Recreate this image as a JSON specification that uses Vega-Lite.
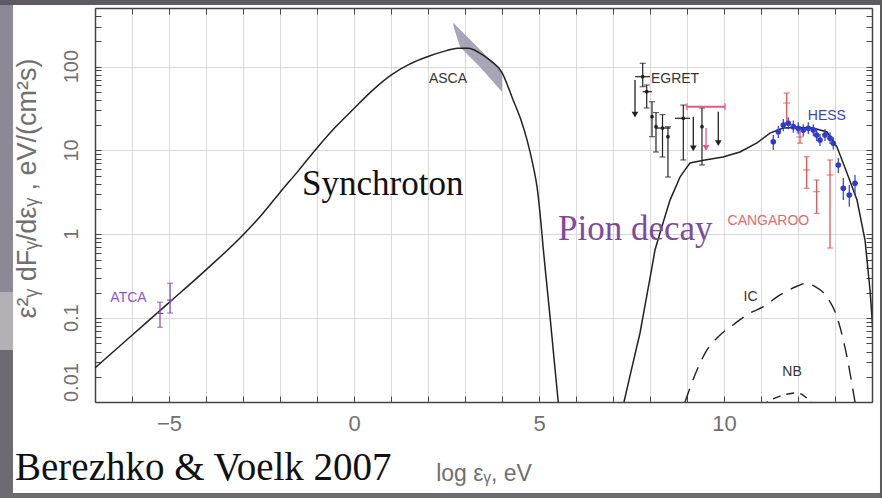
{
  "$schema": "https://vega.github.io/schema/vega-lite/v6.json",
  "width": 777,
  "height": 394,
  "autosize": {"type": "none"},
  "padding": {"left": 95, "top": 8, "right": 10, "bottom": 96},
  "background": "#ffffff",
  "config": {"view": {"stroke": null}},
  "datasets": {
    "one": [{}],
    "ylab": [{"v": 0.1, "t": "0.1"}, {"v": 1, "t": "1"}, {"v": 10, "t": "10"}, {"v": 100, "t": "100"}],
    "ylab0": [{"v": 0.01, "t": "0.01"}],
    "sync": [
      {"x": -7, "y": 0.0255}, {"x": -6, "y": 0.0625}, {"x": -5, "y": 0.153}, {"x": -4, "y": 0.377},
      {"x": -3, "y": 0.98}, {"x": -2.5, "y": 1.7}, {"x": -2, "y": 3.16}, {"x": -1.5, "y": 5.75},
      {"x": -1, "y": 10.7}, {"x": -0.5, "y": 19}, {"x": 0, "y": 31.6}, {"x": 0.5, "y": 52},
      {"x": 1, "y": 79}, {"x": 1.5, "y": 107}, {"x": 2, "y": 132}, {"x": 2.5, "y": 155},
      {"x": 2.8, "y": 166}, {"x": 3.1, "y": 166}, {"x": 3.4, "y": 145}, {"x": 3.7, "y": 117},
      {"x": 4.0, "y": 85}, {"x": 4.3, "y": 40}, {"x": 4.5, "y": 24}, {"x": 4.68, "y": 13.2},
      {"x": 4.85, "y": 6.3}, {"x": 4.95, "y": 3.6}, {"x": 5.05, "y": 1.41}, {"x": 5.11, "y": 0.71},
      {"x": 5.2, "y": 0.28}, {"x": 5.3, "y": 0.102}, {"x": 5.41, "y": 0.0316}, {"x": 5.52, "y": 0.01}
    ],
    "pion": [
      {"x": 7.297, "y": 0.01}, {"x": 7.5, "y": 0.0245}, {"x": 7.73, "y": 0.0665}, {"x": 7.9, "y": 0.172},
      {"x": 8.054, "y": 0.407}, {"x": 8.135, "y": 0.65}, {"x": 8.3, "y": 1.15}, {"x": 8.541, "y": 2.56},
      {"x": 8.7, "y": 3.7}, {"x": 8.811, "y": 4.82}, {"x": 8.95, "y": 5.9}, {"x": 9.081, "y": 7.08},
      {"x": 9.486, "y": 7.69}, {"x": 9.973, "y": 8.35}, {"x": 10.432, "y": 9.58}, {"x": 10.892, "y": 12.3},
      {"x": 11.243, "y": 16.1}, {"x": 11.595, "y": 18.5}, {"x": 12.054, "y": 18.8}, {"x": 12.405, "y": 18.5},
      {"x": 12.784, "y": 16.6}, {"x": 13.054, "y": 11.0}, {"x": 13.324, "y": 5.38}, {"x": 13.595, "y": 2.56},
      {"x": 13.811, "y": 0.855}, {"x": 13.946, "y": 0.217}, {"x": 14.05, "y": 0.05}, {"x": 14.15, "y": 0.01}
    ],
    "ic": [
      {"x": 8.946, "y": 0.01}, {"x": 9.27, "y": 0.0241}, {"x": 9.541, "y": 0.0418}, {"x": 9.838, "y": 0.0597},
      {"x": 10.243, "y": 0.083}, {"x": 10.703, "y": 0.115}, {"x": 11.054, "y": 0.136}, {"x": 11.514, "y": 0.189},
      {"x": 11.973, "y": 0.24}, {"x": 12.2, "y": 0.26}, {"x": 12.45, "y": 0.24}, {"x": 12.784, "y": 0.179},
      {"x": 13.054, "y": 0.103}, {"x": 13.324, "y": 0.0344}, {"x": 13.486, "y": 0.0139}, {"x": 13.541, "y": 0.01}
    ],
    "nb": [
      {"x": 11.0, "y": 0.009}, {"x": 11.3, "y": 0.0108}, {"x": 11.6, "y": 0.0122}, {"x": 11.9, "y": 0.0128},
      {"x": 12.1, "y": 0.0124}, {"x": 12.3, "y": 0.0106}, {"x": 12.45, "y": 0.009}
    ],
    "asca": [
      {"x": 2.686, "lo": 305, "hi": 334}, {"x": 2.865, "lo": 171, "hi": 277},
      {"x": 3.405, "lo": 98.9, "hi": 160}, {"x": 4.0, "lo": 50.2, "hi": 87.4}
    ],
    "atca": [
      {"x": -5.243, "y": 0.114, "lo": 0.078, "hi": 0.155, "xlo": -5.33, "xhi": -5.15},
      {"x": -4.97, "y": 0.164, "lo": 0.115, "hi": 0.261, "xlo": -5.05, "xhi": -4.89}
    ],
    "egret": [
      {"x": 7.803, "y": 75.8, "lo": 57.6, "hi": 109.5, "xlo": 7.6, "xhi": 8.0},
      {"x": 7.911, "y": 50.2, "lo": 32.1, "hi": 60.3, "xlo": 7.8, "xhi": 8.05},
      {"x": 8.054, "y": 25.3, "lo": 14.6, "hi": 38.1},
      {"x": 8.162, "y": 19.2, "lo": 9.58, "hi": 28.3},
      {"x": 8.338, "y": 18.5, "lo": 8.35, "hi": 26.8, "xlo": 8.15, "xhi": 8.55},
      {"x": 8.486, "y": 14.6, "lo": 4.82, "hi": 19.2},
      {"x": 8.9, "y": 24.2, "lo": 7.7, "hi": 34.8, "xlo": 8.676, "xhi": 9.081},
      {"x": 9.405, "y": 19.2, "lo": 6.71, "hi": 32.1}
    ],
    "ul": [
      {"x": 7.595, "top": 69.2, "tip": 26.8, "inst": "EGRET"},
      {"x": 9.17, "top": 25.3, "tip": 10.6, "inst": "EGRET"},
      {"x": 9.846, "top": 29.0, "tip": 12.2, "inst": "EGRET"},
      {"x": 9.514, "top": 18.5, "tip": 10.7, "inst": "EGRET-b"}
    ],
    "egretb": [
      {"y": 33.2, "xlo": 8.992, "xhi": 10.027}
    ],
    "hess": [
      {"x": 11.332, "y": 12.7, "lo": 10.1, "hi": 15.3}, {"x": 11.467, "y": 16.7, "lo": 14.1, "hi": 19.7},
      {"x": 11.603, "y": 20.1, "lo": 17.0, "hi": 23.7}, {"x": 11.738, "y": 21.1, "lo": 17.9, "hi": 24.9},
      {"x": 11.873, "y": 19.2, "lo": 16.3, "hi": 22.7}, {"x": 12.008, "y": 18.4, "lo": 15.6, "hi": 21.7},
      {"x": 12.143, "y": 17.5, "lo": 14.8, "hi": 20.6}, {"x": 12.278, "y": 18.4, "lo": 15.6, "hi": 21.7},
      {"x": 12.414, "y": 17.5, "lo": 14.8, "hi": 20.6}, {"x": 12.505, "y": 15.3, "lo": 13.0, "hi": 18.0},
      {"x": 12.595, "y": 13.3, "lo": 11.3, "hi": 15.7}, {"x": 12.73, "y": 15.3, "lo": 13.0, "hi": 18.0},
      {"x": 12.865, "y": 14.0, "lo": 11.9, "hi": 16.5}, {"x": 12.954, "y": 12.2, "lo": 10.3, "hi": 14.4},
      {"x": 13.089, "y": 6.71, "lo": 5.36, "hi": 8.13}, {"x": 13.224, "y": 3.54, "lo": 2.56, "hi": 4.69},
      {"x": 13.386, "y": 2.94, "lo": 2.13, "hi": 3.87}, {"x": 13.541, "y": 4.06, "lo": 2.94, "hi": 5.1}
    ],
    "cang": [
      {"x": 11.695, "y": 36.8, "lo": 21.3, "hi": 48.4},
      {"x": 12.054, "y": 14.5, "lo": 12.2, "hi": 16.7},
      {"x": 12.235, "y": 5.85, "lo": 3.54, "hi": 8.42},
      {"x": 12.505, "y": 3.22, "lo": 1.78, "hi": 4.44},
      {"x": 12.865, "y": 5.1, "lo": 0.686, "hi": 7.7}
    ],
    "labels": [
      {"text": "ASCA", "x": 2.54, "y": 71.2, "inst": "ASCA"},
      {"text": "EGRET", "x": 8.676, "y": 72.1, "inst": "EGRET"},
      {"text": "HESS", "x": 12.78, "y": 25.8, "inst": "HESS"},
      {"text": "CANGAROO", "x": 11.2, "y": 1.44, "inst": "CANGAROO"},
      {"text": "ATCA", "x": -6.095, "y": 0.176, "inst": "ATCA"},
      {"text": "IC", "x": 10.716, "y": 0.179, "inst": "IC"},
      {"text": "NB", "x": 11.84, "y": 0.0225, "inst": "NB"}
    ],
    "notes": [
      {"text": "Synchroton", "x": -1.405, "y": 2.94, "kind": "model"},
      {"text": "Pion decay", "x": 5.514, "y": 0.855, "kind": "pion"}
    ],
    "credit": [
      {"text": "Berezhko & Voelk 2007", "x": -9.162, "y": 0.001175}
    ]
  },
  "resolve": {
    "axis": {"x": "independent", "y": "independent"},
    "scale": {"color": "independent"}
  },
  "layer": [
    {
      "data": {"name": "one"},
      "mark": {"type": "rect", "color": "#5e5a63", "clip": false},
      "encoding": {
        "x": {"datum": -10, "type": "quantitative", "scale": {"domain": [-7, 14], "nice": false, "zero": false}, "axis": null},
        "x2": {"datum": 15},
        "y": {"datum": 543, "type": "quantitative", "scale": {"type": "log", "domain": [0.01, 500], "nice": false}, "axis": null},
        "y2": {"datum": 5000}
      }
    },
    {
      "data": {"name": "one"},
      "mark": {"type": "rect", "color": "#6e6a72", "clip": false},
      "encoding": {
        "x": {"datum": -10, "type": "quantitative", "scale": {"domain": [-7, 14], "nice": false, "zero": false}, "axis": null},
        "x2": {"datum": 15},
        "y": {"datum": 0.00001, "type": "quantitative", "scale": {"type": "log", "domain": [0.01, 500], "nice": false}, "axis": null},
        "y2": {"datum": 0.000822}
      }
    },
    {
      "data": {"name": "one"},
      "mark": {"type": "rect", "color": "#8d8893", "clip": false},
      "encoding": {
        "x": {"datum": -10, "type": "quantitative", "scale": {"domain": [-7, 14], "nice": false, "zero": false}, "axis": null},
        "x2": {"datum": -9.216},
        "y": {"datum": 0.205, "type": "quantitative", "scale": {"type": "log", "domain": [0.01, 500], "nice": false}, "axis": null},
        "y2": {"datum": 543}
      }
    },
    {
      "data": {"name": "one"},
      "mark": {"type": "rect", "color": "#b3b1b6", "clip": false},
      "encoding": {
        "x": {"datum": -10, "type": "quantitative", "scale": {"domain": [-7, 14], "nice": false, "zero": false}, "axis": null},
        "x2": {"datum": -9.216},
        "y": {"datum": 0.0417, "type": "quantitative", "scale": {"type": "log", "domain": [0.01, 500], "nice": false}, "axis": null},
        "y2": {"datum": 0.205}
      }
    },
    {
      "data": {"name": "one"},
      "mark": {"type": "rect", "color": "#6e6a72", "clip": false},
      "encoding": {
        "x": {"datum": -10, "type": "quantitative", "scale": {"domain": [-7, 14], "nice": false, "zero": false}, "axis": null},
        "x2": {"datum": -9.216},
        "y": {"datum": 0.000822, "type": "quantitative", "scale": {"type": "log", "domain": [0.01, 500], "nice": false}, "axis": null},
        "y2": {"datum": 0.0417}
      }
    },
    {
      "data": {"name": "one"},
      "mark": {"type": "rect", "color": "#5e5a63", "clip": false},
      "encoding": {
        "x": {"datum": 14.216, "type": "quantitative", "scale": {"domain": [-7, 14], "nice": false, "zero": false}, "axis": null},
        "x2": {"datum": 15},
        "y": {"datum": 0.00001, "type": "quantitative", "scale": {"type": "log", "domain": [0.01, 500], "nice": false}, "axis": null},
        "y2": {"datum": 5000}
      }
    },
    {
      "data": {"name": "asca"},
      "mark": {"type": "area", "color": "#9d9bae", "opacity": 0.9, "interpolate": "linear"},
      "encoding": {
        "x": {"field": "x", "type": "quantitative", "scale": {"domain": [-7, 14], "nice": false, "zero": false}, "axis": null},
        "y": {"field": "hi", "type": "quantitative", "scale": {"type": "log", "domain": [0.01, 500], "nice": false}, "axis": null},
        "y2": {"field": "lo"}
      }
    },
    {
      "data": {"name": "sync"},
      "mark": {"type": "line", "color": "#222222", "strokeWidth": 1.5, "clip": true, "interpolate": "monotone"},
      "encoding": {
        "x": {
          "field": "x", "type": "quantitative",
          "scale": {"domain": [-7, 14], "nice": false, "zero": false},
          "axis": {
            "orient": "bottom",
            "values": [-7, -6, -5, -4, -3, -2, -1, 0, 1, 2, 3, 4, 5, 6, 7, 8, 9, 10, 11, 12, 13, 14],
            "labelExpr": "datum.value % 5 === 0 ? datum.label : ''",
            "labelOverlap": false, "labelFlush": false,
            "grid": true, "gridColor": "#d9d9d9", "gridWidth": 1,
            "ticks": true, "tickSize": -6, "tickColor": "#444444", "tickWidth": 1,
            "domain": true, "domainColor": "#444444", "domainWidth": 1.5,
            "labelFont": "Liberation Sans", "labelFontSize": 22, "labelColor": "#707070",
            "labelPadding": 17, "labelBaseline": "top",
            "title": "log  εᵧ,  eV",
            "titleFont": "Liberation Sans", "titleFontSize": 23, "titleFontWeight": "normal", "titleColor": "#707070",
            "titleY": 78, "titleBaseline": "alphabetic"
          }
        },
        "y": {
          "field": "y", "type": "quantitative",
          "scale": {"type": "log", "domain": [0.01, 500], "nice": false},
          "axis": {
            "orient": "left",
            "values": [0.01, 0.02, 0.03, 0.04, 0.05, 0.06, 0.07, 0.08, 0.09, 0.1, 0.2, 0.3, 0.4, 0.5, 0.6, 0.7, 0.8, 0.9, 1, 2, 3, 4, 5, 6, 7, 8, 9, 10, 20, 30, 40, 50, 60, 70, 80, 90, 100, 200, 300, 400, 500],
            "labels": false,
            "grid": true, "gridColor": "#d9d9d9", "gridWidth": 1,
            "gridOpacity": {"condition": {"test": "datum.value == 0.01 || datum.value == 0.1 || datum.value == 1 || datum.value == 10 || datum.value == 100", "value": 1}, "value": 0},
            "ticks": true, "tickSize": -6, "tickColor": "#444444", "tickWidth": 1,
            "domain": true, "domainColor": "#444444", "domainWidth": 1.5,
            "title": "ε²ᵧ  dFᵧ/dεᵧ ,    eV/(cm²s)",
            "titleFont": "Liberation Sans", "titleFontSize": 27, "titleFontWeight": "normal", "titleColor": "#707070",
            "titleAngle": 270, "titleX": -68, "titleY": 180, "titleAlign": "center", "titleBaseline": "middle"
          }
        }
      }
    },
    {
      "data": {"name": "pion"},
      "mark": {"type": "line", "color": "#222222", "strokeWidth": 1.5, "clip": true},
      "encoding": {
        "x": {
          "field": "x", "type": "quantitative",
          "scale": {"domain": [-7, 14], "nice": false, "zero": false},
          "axis": {
            "orient": "top",
            "values": [-7, -6, -5, -4, -3, -2, -1, 0, 1, 2, 3, 4, 5, 6, 7, 8, 9, 10, 11, 12, 13, 14],
            "labels": false, "grid": false, "title": null,
            "ticks": true, "tickSize": -6, "tickColor": "#444444",
            "domain": true, "domainColor": "#444444", "domainWidth": 1.5
          }
        },
        "y": {
          "field": "y", "type": "quantitative",
          "scale": {"type": "log", "domain": [0.01, 500], "nice": false},
          "axis": {
            "orient": "right",
            "values": [0.01, 0.02, 0.03, 0.04, 0.05, 0.06, 0.07, 0.08, 0.09, 0.1, 0.2, 0.3, 0.4, 0.5, 0.6, 0.7, 0.8, 0.9, 1, 2, 3, 4, 5, 6, 7, 8, 9, 10, 20, 30, 40, 50, 60, 70, 80, 90, 100, 200, 300, 400, 500],
            "labels": false, "grid": false, "title": null,
            "ticks": true, "tickSize": -6, "tickColor": "#444444",
            "domain": true, "domainColor": "#444444", "domainWidth": 1.5
          }
        }
      }
    },
    {
      "data": {"name": "ylab"},
      "mark": {"type": "text", "angle": 270, "align": "center", "baseline": "alphabetic", "dy": -17, "font": "Liberation Sans", "fontSize": 20, "color": "#707070", "clip": false},
      "encoding": {
        "x": {"datum": -7, "type": "quantitative", "scale": {"domain": [-7, 14], "nice": false, "zero": false}, "axis": null},
        "y": {"field": "v", "type": "quantitative", "scale": {"type": "log", "domain": [0.01, 500], "nice": false}, "axis": null},
        "text": {"field": "t"}
      }
    },
    {
      "data": {"name": "ylab0"},
      "mark": {"type": "text", "angle": 270, "align": "left", "baseline": "alphabetic", "dy": -17, "font": "Liberation Sans", "fontSize": 20, "color": "#707070", "clip": false},
      "encoding": {
        "x": {"datum": -7, "type": "quantitative", "scale": {"domain": [-7, 14], "nice": false, "zero": false}, "axis": null},
        "y": {"field": "v", "type": "quantitative", "scale": {"type": "log", "domain": [0.01, 500], "nice": false}, "axis": null},
        "text": {"field": "t"}
      }
    },
    {
      "data": {"name": "ic"},
      "mark": {"type": "line", "color": "#222222", "strokeWidth": 1.4, "strokeDash": [14, 9], "clip": true, "interpolate": "monotone"},
      "encoding": {
        "x": {"field": "x", "type": "quantitative", "scale": {"domain": [-7, 14], "nice": false, "zero": false}, "axis": null},
        "y": {"field": "y", "type": "quantitative", "scale": {"type": "log", "domain": [0.01, 500], "nice": false}, "axis": null}
      }
    },
    {
      "data": {"name": "nb"},
      "mark": {"type": "line", "color": "#222222", "strokeWidth": 1.4, "strokeDash": [8, 6], "clip": true},
      "encoding": {
        "x": {"field": "x", "type": "quantitative", "scale": {"domain": [-7, 14], "nice": false, "zero": false}, "axis": null},
        "y": {"field": "y", "type": "quantitative", "scale": {"type": "log", "domain": [0.01, 500], "nice": false}, "axis": null}
      }
    },
    {
      "data": {"name": "atca"},
      "mark": {"type": "errorbar", "ticks": true, "size": 6, "thickness": 1.2, "color": "#7f45c8"},
      "encoding": {
        "x": {"field": "x", "type": "quantitative", "scale": {"domain": [-7, 14], "nice": false, "zero": false}, "axis": null},
        "y": {"field": "lo", "type": "quantitative", "scale": {"type": "log", "domain": [0.01, 500], "nice": false}, "axis": null},
        "y2": {"field": "hi"}
      }
    },
    {
      "data": {"name": "atca"},
      "mark": {"type": "rule", "color": "#7f45c8", "strokeWidth": 1.2},
      "encoding": {
        "x": {"field": "xlo", "type": "quantitative", "scale": {"domain": [-7, 14], "nice": false, "zero": false}, "axis": null},
        "x2": {"field": "xhi"},
        "y": {"field": "y", "type": "quantitative", "scale": {"type": "log", "domain": [0.01, 500], "nice": false}, "axis": null}
      }
    },
    {
      "data": {"name": "egret"},
      "mark": {"type": "errorbar", "ticks": true, "size": 6, "thickness": 1.2, "color": "#222222"},
      "encoding": {
        "x": {"field": "x", "type": "quantitative", "scale": {"domain": [-7, 14], "nice": false, "zero": false}, "axis": null},
        "y": {"field": "lo", "type": "quantitative", "scale": {"type": "log", "domain": [0.01, 500], "nice": false}, "axis": null},
        "y2": {"field": "hi"}
      }
    },
    {
      "data": {"name": "egret"},
      "transform": [{"filter": "isValid(datum.xlo)"}],
      "mark": {"type": "rule", "color": "#222222", "strokeWidth": 1.2},
      "encoding": {
        "x": {"field": "xlo", "type": "quantitative", "scale": {"domain": [-7, 14], "nice": false, "zero": false}, "axis": null},
        "x2": {"field": "xhi"},
        "y": {"field": "y", "type": "quantitative", "scale": {"type": "log", "domain": [0.01, 500], "nice": false}, "axis": null}
      }
    },
    {
      "data": {"name": "egret"},
      "mark": {"type": "point", "filled": true, "size": 14, "color": "#222222", "opacity": 1},
      "encoding": {
        "x": {"field": "x", "type": "quantitative", "scale": {"domain": [-7, 14], "nice": false, "zero": false}, "axis": null},
        "y": {"field": "y", "type": "quantitative", "scale": {"type": "log", "domain": [0.01, 500], "nice": false}, "axis": null}
      }
    },
    {
      "data": {"name": "egretb"},
      "mark": {"type": "errorbar", "ticks": true, "size": 7, "thickness": 1.8, "color": "#e4578f"},
      "encoding": {
        "x": {"field": "xlo", "type": "quantitative", "scale": {"domain": [-7, 14], "nice": false, "zero": false}, "axis": null},
        "x2": {"field": "xhi"},
        "y": {"field": "y", "type": "quantitative", "scale": {"type": "log", "domain": [0.01, 500], "nice": false}, "axis": null}
      }
    },
    {
      "data": {"name": "ul"},
      "mark": {"type": "rule", "strokeWidth": 1.3},
      "encoding": {
        "x": {"field": "x", "type": "quantitative", "scale": {"domain": [-7, 14], "nice": false, "zero": false}, "axis": null},
        "y": {"field": "top", "type": "quantitative", "scale": {"type": "log", "domain": [0.01, 500], "nice": false}, "axis": null},
        "y2": {"field": "tip"},
        "color": {"field": "inst", "type": "nominal", "scale": {"domain": ["EGRET", "EGRET-b"], "range": ["#222222", "#e4578f"]}, "legend": null}
      }
    },
    {
      "data": {"name": "ul"},
      "mark": {"type": "point", "shape": "triangle-down", "filled": true, "size": 45, "opacity": 1},
      "encoding": {
        "x": {"field": "x", "type": "quantitative", "scale": {"domain": [-7, 14], "nice": false, "zero": false}, "axis": null},
        "y": {"field": "tip", "type": "quantitative", "scale": {"type": "log", "domain": [0.01, 500], "nice": false}, "axis": null},
        "color": {"field": "inst", "type": "nominal", "scale": {"domain": ["EGRET", "EGRET-b"], "range": ["#222222", "#e4578f"]}, "legend": null}
      }
    },
    {
      "data": {"name": "cang"},
      "mark": {"type": "errorbar", "ticks": true, "size": 6, "thickness": 1.2, "color": "#e04848"},
      "encoding": {
        "x": {"field": "x", "type": "quantitative", "scale": {"domain": [-7, 14], "nice": false, "zero": false}, "axis": null},
        "y": {"field": "lo", "type": "quantitative", "scale": {"type": "log", "domain": [0.01, 500], "nice": false}, "axis": null},
        "y2": {"field": "hi"}
      }
    },
    {
      "data": {"name": "cang"},
      "mark": {"type": "tick", "orient": "horizontal", "size": 7, "thickness": 1.2, "color": "#e04848"},
      "encoding": {
        "x": {"field": "x", "type": "quantitative", "scale": {"domain": [-7, 14], "nice": false, "zero": false}, "axis": null},
        "y": {"field": "y", "type": "quantitative", "scale": {"type": "log", "domain": [0.01, 500], "nice": false}, "axis": null}
      }
    },
    {
      "data": {"name": "hess"},
      "mark": {"type": "errorbar", "ticks": false, "thickness": 1.2, "color": "#2f3bcc"},
      "encoding": {
        "x": {"field": "x", "type": "quantitative", "scale": {"domain": [-7, 14], "nice": false, "zero": false}, "axis": null},
        "y": {"field": "lo", "type": "quantitative", "scale": {"type": "log", "domain": [0.01, 500], "nice": false}, "axis": null},
        "y2": {"field": "hi"}
      }
    },
    {
      "data": {"name": "hess"},
      "mark": {"type": "point", "filled": true, "size": 32, "color": "#2f3bcc", "opacity": 1},
      "encoding": {
        "x": {"field": "x", "type": "quantitative", "scale": {"domain": [-7, 14], "nice": false, "zero": false}, "axis": null},
        "y": {"field": "y", "type": "quantitative", "scale": {"type": "log", "domain": [0.01, 500], "nice": false}, "axis": null}
      }
    },
    {
      "data": {"name": "labels"},
      "mark": {"type": "text", "font": "Liberation Sans", "fontSize": 14, "align": "center", "baseline": "middle"},
      "encoding": {
        "x": {"field": "x", "type": "quantitative", "scale": {"domain": [-7, 14], "nice": false, "zero": false}, "axis": null},
        "y": {"field": "y", "type": "quantitative", "scale": {"type": "log", "domain": [0.01, 500], "nice": false}, "axis": null},
        "text": {"field": "text"},
        "color": {"field": "inst", "type": "nominal", "scale": {"domain": ["ASCA", "EGRET", "HESS", "CANGAROO", "ATCA", "IC", "NB"], "range": ["#333333", "#333333", "#3b3fd0", "#e36a6a", "#9152d6", "#333333", "#333333"]}, "legend": null}
      }
    },
    {
      "data": {"name": "notes"},
      "mark": {"type": "text", "font": "Liberation Serif", "fontSize": 35, "align": "left", "baseline": "alphabetic", "clip": false},
      "encoding": {
        "x": {"field": "x", "type": "quantitative", "scale": {"domain": [-7, 14], "nice": false, "zero": false}, "axis": null},
        "y": {"field": "y", "type": "quantitative", "scale": {"type": "log", "domain": [0.01, 500], "nice": false}, "axis": null},
        "text": {"field": "text"},
        "color": {"field": "kind", "type": "nominal", "scale": {"domain": ["model", "pion"], "range": ["#111111", "#7d4b9e"]}, "legend": null}
      }
    },
    {
      "data": {"name": "credit"},
      "mark": {"type": "text", "font": "Liberation Serif", "fontSize": 39, "align": "left", "baseline": "alphabetic", "color": "#111111", "clip": false},
      "encoding": {
        "x": {"field": "x", "type": "quantitative", "scale": {"domain": [-7, 14], "nice": false, "zero": false}, "axis": null},
        "y": {"field": "y", "type": "quantitative", "scale": {"type": "log", "domain": [0.01, 500], "nice": false}, "axis": null},
        "text": {"field": "text"}
      }
    }
  ]
}
